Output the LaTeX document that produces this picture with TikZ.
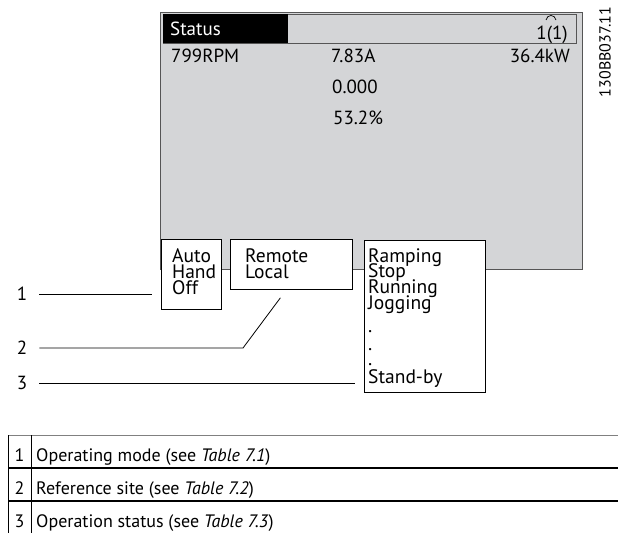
\documentclass[tikz,border=0pt]{standalone}
\usepackage{fontspec}
\setmainfont{PT Sans}
\usetikzlibrary{calc}
\definecolor{lcd}{RGB}{212,213,215}
\definecolor{rim}{RGB}{85,85,85}
\NewDocumentCommand\tab{m}{(see \textit{Table #1})}

\begin{document}
\begin{tikzpicture}[x=1pt,y=-1pt,
        txt/.style={anchor=base west,inner sep=0pt,font=\fontsize{19}{19}\selectfont},
        itm/.style={anchor=base west,inner sep=0pt,font=\fontsize{19.5}{19.5}\selectfont},
        row/.style={anchor=base west,inner sep=0pt,font=\fontsize{18}{18}\selectfont},
        box/.style={draw,line width=0.8pt,fill=white,anchor=north west,inner sep=0pt},
        lbl/.style={inner sep=0pt,font=\fontsize{19}{19}\selectfont},
        lead/.style={line width=0.8pt,shorten <=12pt}]
            \useasboundingbox (0,0) rectangle (618,533);
            % display
            \node[draw=rim,fill=lcd,line width=0.8pt,anchor=north west,inner sep=0pt,
                  minimum width=422pt,minimum height=257pt] (S) at (160,12) {};
            \node[draw=rim,line width=0.8pt,anchor=north west,inner sep=0pt,
                  minimum width=413pt,minimum height=29pt] (T) at (163,14) {};
            \node[fill=black,anchor=north west,inner sep=0pt,
                  minimum width=125pt,minimum height=29pt] (T0) at (163,14) {};
            \node[txt,white] (st) at (170,35) {Status};
            \node[txt,anchor=base east] (pg) at (568,39) {1(1)};
            \draw[line width=0.7pt] (546,20) .. controls (547,14) and (555,14) .. (556,20);
            \node[txt] (r1) at (171,62) {799RPM};
            \node[txt] (r2) at (331,62) {7.83A};
            \node[txt,anchor=base east] (r3) at (570,62) {36.4kW};
            \node[txt] (r4) at (332,93) {0.000};
            \node[txt] (r5) at (333,124) {53.2\%};
            \node[rotate=90,inner sep=0pt,font=\fontsize{16}{16}\selectfont] (id) at (605,52) {130BB037.11};
            % boxes
            \node[box,minimum width=60pt,minimum height=70pt] (A) at (161,239) {};
            \node[box,minimum width=122pt,minimum height=50pt] (B) at (230,239) {};
            \node[box,minimum width=121pt,minimum height=152pt] (C) at (364,240) {};
            \node[itm] (a1) at (172,262) {Auto};
            \node[itm] (a2) at (172,278) {Hand};
            \node[itm] (a3) at (172,294) {Off};
            \node[itm] (b1) at (245,262) {Remote};
            \node[itm] (b2) at (245,278) {Local};
            \node[itm] (c1) at (368,262) {Ramping};
            \node[itm] (c2) at (368,277) {Stop};
            \node[itm] (c3) at (368,293) {Running};
            \node[itm] (c4) at (368,309) {Jogging};
            \node[itm] (c5) at (368,332) {.};
            \node[itm] (c6) at (368,350) {.};
            \node[itm] (c7) at (368,365) {.};
            \node[itm] (c8) at (368,383) {Stand-by};
            % callouts
            \node[lbl] (n1) at (22,294) {1};
            \node[lbl] (n2) at (22,348) {2};
            \node[lbl] (n3) at (22,383) {3};
            \coordinate (K) at (243,348);
            \coordinate (L) at ($(B.south)+(-11,8)$);
            \draw[lead,shorten >=9pt] (n1) -- (n1 -| A.west);
            \draw[lead] (n2) -- (K) -- (L);
            \draw[lead,shorten >=9pt] (n3) -- (n3 -| C.west);
            % legend
            \draw[gray,line width=0.6pt] (8,435) -- (618,435);
            \draw[line width=1.2pt] (8,468) -- (618,468);
            \draw[line width=1.2pt] (8,501) -- (618,501);
            \draw[line width=0.8pt] (8,435) -- (8,533);
            \draw[line width=0.8pt] (31,435) -- (31,533);
            \node[row,anchor=base] (k1) at (19.5,461) {1};
            \node[row,anchor=base] (k2) at (19.5,494) {2};
            \node[row,anchor=base] (k3) at (19.5,527) {3};
            \node[row] (d1) at (36,461) {Operating mode \tab{7.1}};
            \node[row] (d2) at (36,494) {Reference site \tab{7.2}};
            \node[row] (d3) at (36,527) {Operation status \tab{7.3}};
        \end{tikzpicture}
\end{document}
